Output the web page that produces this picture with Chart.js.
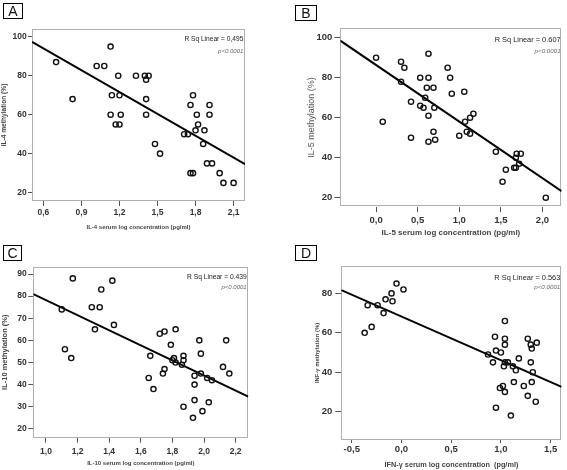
<!DOCTYPE html>
<html>
<head>
<meta charset="utf-8">
<script src="https://cdn.jsdelivr.net/npm/chart.js@4.4.1/dist/chart.umd.min.js"></script>
<style>
  body { margin: 0; background: #fff; width: 567px; height: 470px; position: relative; overflow: hidden;
         font-family: "Liberation Sans", Arial, sans-serif; }
  canvas { position: absolute; }
  .tag { position: absolute; border: 1px solid #000; box-sizing: border-box; font-size: 14px;
         line-height: 14px; text-align: center; color: #111; }
</style>
</head>
<body>
<canvas id="cA" width="285" height="235" style="left:0;top:0"></canvas>
<canvas id="cB" width="285" height="245" style="left:282px;top:0"></canvas>
<canvas id="cC" width="285" height="235" style="left:0;top:235px"></canvas>
<canvas id="cD" width="285" height="235" style="left:282px;top:235px"></canvas>
<div class="tag" style="left:3px;top:3px;width:20px;height:16px">A</div>
<div class="tag" style="left:295px;top:5px;width:22px;height:16px">B</div>
<div class="tag" style="left:3px;top:245px;width:19px;height:16px">C</div>
<div class="tag" style="left:295px;top:245px;width:22px;height:16px">D</div>
<script>
// values

// A: IL-4
const xA = [0.70, 0.83, 1.02, 1.08, 1.13, 1.19, 1.14, 1.20, 1.13, 1.21, 1.17, 1.20, 1.33, 1.40, 1.41, 1.43, 1.41, 1.41, 1.48, 1.52,
            1.71, 1.74, 1.76, 1.78, 1.81, 1.82, 1.80, 1.87, 1.91, 1.91, 1.86, 1.89, 1.93, 1.76, 1.78, 1.99, 2.02, 2.10];
const yA = [87, 68, 85, 85, 95, 80, 70, 70, 60, 60, 55, 55, 80, 80, 78, 80, 68, 60, 45, 40,
            50, 50, 65, 70, 60, 55, 52, 52, 65, 60, 45, 35, 35, 30, 30, 30, 25, 25];
const fitXA = [0.51, 2.19];
const fitYA = [97.4, 34.6];
const xTicksA = [0.6, 0.9, 1.2, 1.5, 1.8, 2.1];
const xLabelsA = ['0,6', '0,9', '1,2', '1,5', '1,8', '2,1'];
const yTicksA = [20, 40, 60, 80, 100];

// B: IL-5
const xB = [0.00, 0.08, 0.30, 0.34, 0.30, 0.42, 0.42, 0.53, 0.53, 0.57, 0.59, 0.61, 0.63, 0.63, 0.63, 0.63, 0.69, 0.70, 0.69, 0.71,
            0.86, 0.89, 0.91, 1.00, 1.06, 1.07, 1.09, 1.13, 1.17, 1.13, 1.44, 1.52, 1.56, 1.66, 1.68, 1.68, 1.69, 1.72, 1.74, 2.04];
const yB = [90, 58, 88, 85, 78, 68, 50, 80, 66, 65, 70, 75, 92, 80, 61, 48, 75, 65, 53, 49,
            85, 80, 72, 51, 73, 58, 53, 60, 62, 52, 43, 28, 34, 35, 35, 40, 42, 37, 42, 20];
const fitXB = [-0.43, 2.23];
const fitYB = [98.5, 23.3];
const xTicksB = [0.0, 0.5, 1.0, 1.5, 2.0];
const xLabelsB = ['0,0', '0,5', '1,0', '1,5', '2,0'];
const yTicksB = [20, 40, 60, 80, 100];

// C: IL-10
const xC = [1.10, 1.12, 1.16, 1.17, 1.29, 1.34, 1.31, 1.35, 1.42, 1.43, 1.65, 1.66, 1.68, 1.72, 1.75, 1.74, 1.75, 1.79, 1.82, 1.80,
            1.81, 1.82, 1.87, 1.87, 1.86, 1.87, 1.93, 1.94, 1.94, 1.94, 1.97, 1.98, 1.98, 1.99, 2.02, 2.05, 2.03, 2.12, 2.14, 2.16];
const yC = [74, 56, 52, 88, 75, 75, 65, 83, 87, 67, 43, 53, 38, 63, 64, 45, 47, 58, 65, 51,
            52, 50, 53, 51, 49, 30, 25, 33, 44, 40, 60, 54, 45, 28, 43, 42, 32, 48, 60, 45];
const fitXC = [0.92, 2.28];
const fitYC = [80.9, 34.6];
const xTicksC = [1.0, 1.2, 1.4, 1.6, 1.8, 2.0, 2.2];
const xLabelsC = ['1,0', '1,2', '1,4', '1,6', '1,8', '2,0', '2,2'];
const yTicksC = [20, 30, 40, 50, 60, 70, 80, 90];

// D: IFN-γ
const xD = [-0.37, -0.34, -0.30, -0.24, -0.18, -0.16, -0.10, -0.09, -0.05, 0.02,
            1.04, 0.94, 1.04, 1.04, 1.27, 1.30, 1.36, 1.31, 0.95, 1.00, 0.87, 0.92, 1.04, 1.07, 1.03, 1.12, 1.15, 1.18, 1.30, 1.32,
            1.13, 1.31, 1.02, 0.99, 1.04, 1.23, 1.27, 1.35, 0.95, 1.10];
const yD = [60, 74, 63, 74, 70, 77, 80, 76, 85, 82,
            66, 58, 57, 54, 57, 54, 55, 52, 51, 50, 49, 45, 45, 45, 43, 43, 41, 47, 45, 40,
            35, 35, 33, 32, 30, 33, 28, 25, 22, 18];
const fitXD = [-0.605, 1.61];
const fitYD = [81.7, 32.6];
const xTicksD = [-0.5, 0.0, 0.5, 1.0, 1.5];
const xLabelsD = ['-0,5', '0,0', '0,5', '1,0', '1,5'];
const yTicksD = [20, 40, 60, 80];

const FONT = '"Liberation Sans", Arial, sans-serif';

const toPts = (xs, ys) => xs.map((x, i) => ({ x, y: ys[i] }));

// frame round the plot + the R² / p text in the top right corner
const panelBox = {
  id: 'panelBox',
  beforeDatasetsDraw(chart) {
    const { ctx, chartArea: a } = chart;
    ctx.save();
    ctx.strokeStyle = '#b0b0b0';
    ctx.lineWidth = 1;
    ctx.strokeRect(Math.round(a.left) + 0.5, Math.round(a.top) + 0.5,
                   Math.round(a.right - a.left) - 1, Math.round(a.bottom - a.top) - 1);
    ctx.restore();
  },
  afterDraw(chart, args, o) {
    const { ctx, chartArea: a } = chart;
    ctx.save();
    ctx.textAlign = 'right';
    ctx.textBaseline = 'middle';
    ctx.fillStyle = '#1a1a1a';
    ctx.font = `${o.rSize}px ${FONT}`;
    ctx.fillText(o.rText, a.right + o.dx, a.top + o.rY);
    ctx.fillStyle = '#666';
    ctx.font = `italic ${o.pSize}px ${FONT}`;
    ctx.fillText('p<0.0001', a.right + o.dx, a.top + o.pY);
    ctx.restore();
  },
};

function makePanel(id, L) {
  return new Chart(document.getElementById(id), {
    type: 'scatter',
    data: {
      datasets: [
        {
          data: toPts(L.xs, L.ys),
          pointStyle: 'circle',
          pointRadius: 2.6,
          pointBorderWidth: 1.4,
          pointBorderColor: '#111',
          pointBackgroundColor: 'rgba(0,0,0,0)',
        },
        {
          type: 'line',
          data: toPts(L.fitX, L.fitY),
          borderColor: '#000',
          borderWidth: 2,
          pointRadius: 0,
        },
      ],
    },
    options: {
      responsive: false,
      animation: false,
      devicePixelRatio: 1,
      layout: { padding: { left: L.padL, top: L.padT, right: L.padR, bottom: 0 } },
      plugins: {
        legend: { display: false },
        tooltip: { enabled: false },
        panelBox: L.text,
      },
      scales: {
        x: {
          type: 'linear',
          min: L.xMin,
          max: L.xMax,
          afterBuildTicks: (s) => { s.ticks = L.xTicks.map((v) => ({ value: v })); },
          afterFit: (s) => { s.height = L.xH; },
          ticks: {
            autoSkip: false,
            maxRotation: 0,
            padding: L.xPad,
            color: '#333',
            font: { family: FONT, size: L.tickSize, weight: 'bold' },
            callback: (v, i) => L.xLabels[i],
          },
          grid: { drawOnChartArea: false, tickLength: L.xTl, color: '#555' },
          border: { display: false },
          title: {
            display: true,
            text: L.xTitle,
            color: '#444',
            padding: { top: 0, bottom: L.xTitlePad },
            font: { family: FONT, size: L.xTitleSize, weight: 'bold' },
          },
        },
        y: {
          type: 'linear',
          min: L.yMin,
          max: L.yMax,
          afterBuildTicks: (s) => { s.ticks = L.yTicks.map((v) => ({ value: v })); },
          afterFit: (s) => { s.width = L.yW; },
          ticks: {
            padding: L.yPad,
            color: '#333',
            font: { family: FONT, size: L.tickSize, weight: 'bold' },
          },
          grid: { drawOnChartArea: false, tickLength: L.yTl, color: '#555' },
          border: { display: false },
          title: {
            display: true,
            text: L.yTitle,
            color: L.yTitleColor || '#444',
            padding: 0,
            font: { family: FONT, size: L.yTitleSize, weight: L.yTitleWeight || 'bold' },
          },
        },
      },
    },
    plugins: [panelBox],
  });
}

makePanel('cA', {
  xs: xA, ys: yA, fitX: fitXA, fitY: fitYA,
  xMin: 0.51, xMax: 2.19, yMin: 15.7, yMax: 104,
  xTicks: xTicksA, xLabels: xLabelsA, yTicks: yTicksA,
  padL: 0, padT: 29, padR: 40, yW: 32, xH: 34,
  tickSize: 8.5, xTl: 5, xPad: 1.5, yTl: 4, yPad: 1.3,
  xTitle: 'IL-4 serum log concentration (pg/ml)', xTitleSize: 6, xTitlePad: 3.7,
  yTitle: 'IL-4 methylation (%)', yTitleSize: 6.6,
  text: { rText: 'R Sq Linear = 0,495', rSize: 6.6, pSize: 6, dx: -1.7, rY: 10.3, pY: 22.7 },
});

makePanel('cB', {
  xs: xB, ys: yB, fitX: fitXB, fitY: fitYB,
  xMin: -0.43, xMax: 2.23, yMin: 15.5, yMax: 104.7,
  xTicks: xTicksB, xLabels: xLabelsB, yTicks: yTicksB,
  padL: 24, padT: 28.3, padR: 4, yW: 34.3, xH: 38.3,
  tickSize: 9.5, xTl: 5.5, xPad: 2, yTl: 6, yPad: 2,
  xTitle: 'IL-5 serum log concentration (pg/ml)', xTitleSize: 8, xTitlePad: 7.2,
  yTitle: 'IL-5 methylation (%)', yTitleSize: 9, yTitleWeight: 'normal', yTitleColor: '#555',
  text: { rText: 'R Sq Linear = 0.607', rSize: 7.4, pSize: 6.2, dx: -1, rY: 11.7, pY: 23.4 },
});

makePanel('cC', {
  xs: xC, ys: yC, fitX: fitXC, fitY: fitYC,
  xMin: 0.92, xMax: 2.28, yMin: 16, yMax: 93.3,
  xTicks: xTicksC, xLabels: xLabelsC, yTicks: yTicksC,
  padL: 0, padT: 31.7, padR: 36.7, yW: 33.3, xH: 32.3,
  tickSize: 8.5, xTl: 5, xPad: 4, yTl: 5, yPad: 1.5,
  xTitle: 'IL-10 serum log concentration (pg/ml)', xTitleSize: 6, xTitlePad: 3.1,
  yTitle: 'IL-10 methylation (%)', yTitleSize: 7.5,
  text: { rText: 'R Sq Linear = 0.439', rSize: 6.7, pSize: 6, dx: -1.6, rY: 10, pY: 21 },
});

makePanel('cD', {
  xs: xD, ys: yD, fitX: fitXD, fitY: fitYD,
  xMin: -0.605, xMax: 1.61, yMin: 5.6, yMax: 93.9,
  xTicks: xTicksD, xLabels: xLabelsD, yTicks: yTicksD,
  padL: 32, padT: 31, padR: 1, yW: 27.3, xH: 30,
  tickSize: 9.5, xTl: 3, xPad: 0.5, yTl: 6, yPad: 3,
  xTitle: 'IFN-γ serum log concentration  (pg/ml)', xTitleSize: 7.3, xTitlePad: 0.6,
  yTitle: 'INF-γ methylation (%)', yTitleSize: 5.9,
  text: { rText: 'R Sq Linear = 0.563', rSize: 7.4, pSize: 6.2, dx: -1.3, rY: 11.7, pY: 21.7 },
});
</script>
</body>
</html>
